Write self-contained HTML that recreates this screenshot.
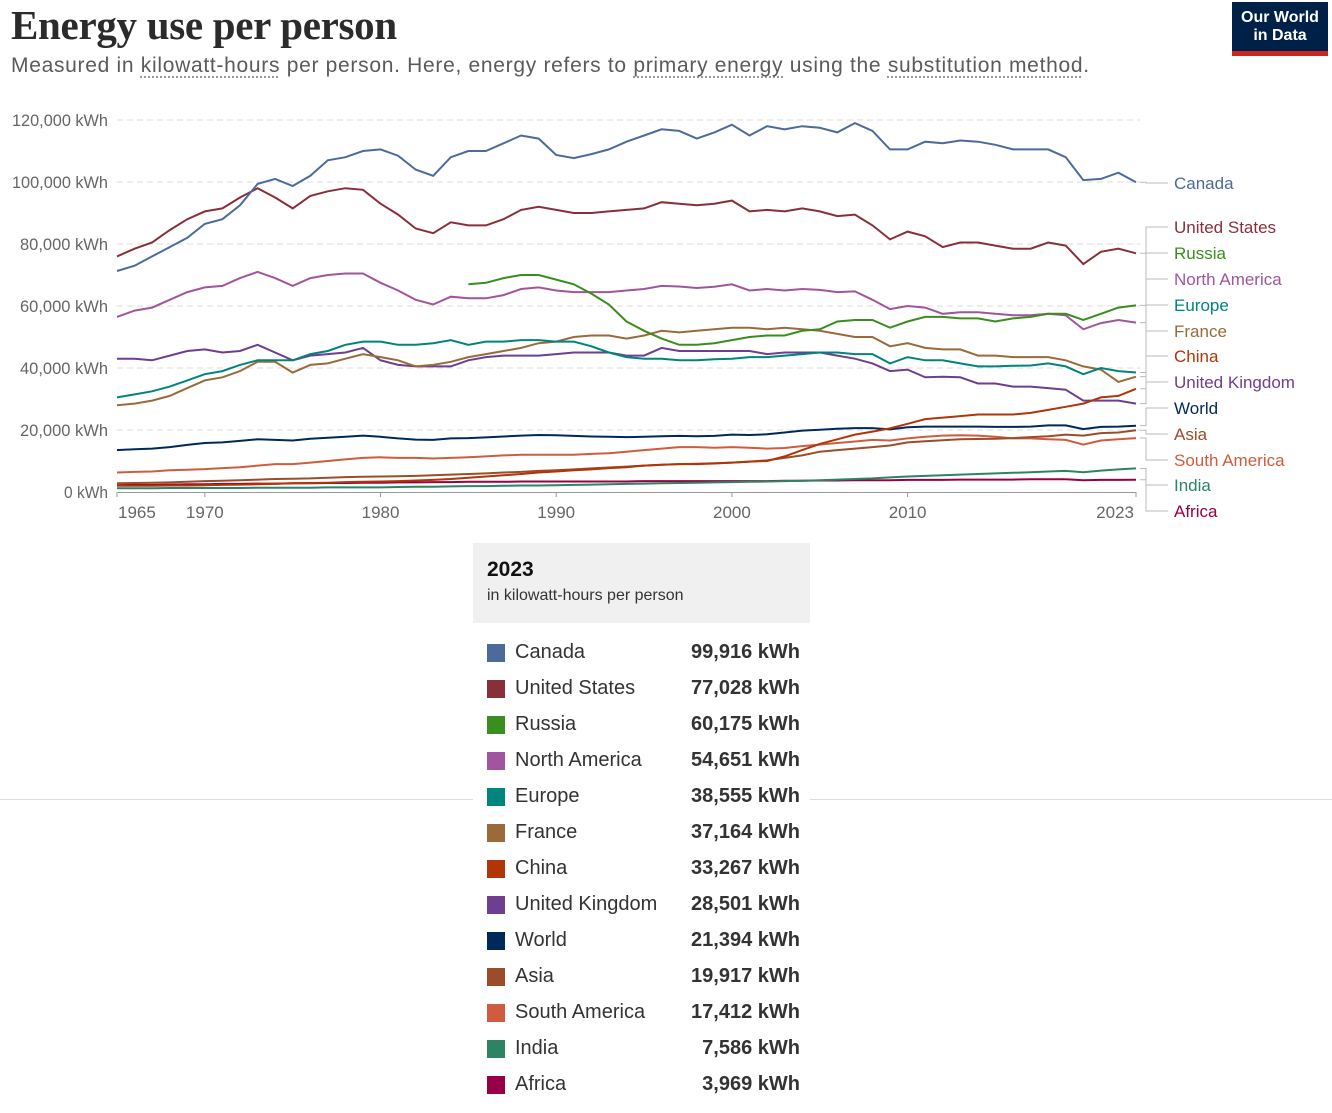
<!DOCTYPE html>
<html><head><meta charset="utf-8"><style>
body{margin:0;width:1332px;height:1113px;background:#fff;font-family:"Liberation Sans",sans-serif;position:relative;overflow:hidden}
#title{position:absolute;left:11px;top:1px;font-family:"Liberation Serif",serif;font-weight:bold;font-size:41px;color:#2b2b2b;letter-spacing:-0.3px}
#sub{position:absolute;left:11px;top:54px;font-size:21px;color:#5b5b5b;letter-spacing:0.7px}
#sub u{text-decoration:underline dotted #999;text-underline-offset:4px}
#logo{position:absolute;left:1232px;top:2px;width:96px;background:#002147;border-bottom:5px solid #ce261e;color:#fff;font-size:16px;font-weight:bold;text-align:center;line-height:18px;padding-top:7px;height:42px}
#hr{position:absolute;left:0;top:799px;width:1332px;height:1px;background:#ddd}
#tbl{position:absolute;left:473px;top:543px;width:337px;background:#fff}
#th{background:#f0f0f0;height:80px;padding-left:14px;box-sizing:border-box}
#th b{display:block;padding-top:15px;font-size:21px;color:#111}
#th span{display:block;font-size:16px;color:#333;margin-top:5px}
.row{position:relative;height:36px;font-size:20px;color:#333}
.sw{position:absolute;left:14px;top:1px;width:18px;height:18px}
.nm{position:absolute;left:42px;top:-2px}
.vl{position:absolute;right:10px;top:-2px;font-weight:bold}
</style></head><body>
<div id="title">Energy use per person</div>
<div id="sub">Measured in <u>kilowatt-hours</u> per person. Here, energy refers to <u>primary energy</u> using the <u>substitution method</u>.</div>
<div id="logo">Our World<br>in Data</div>
<svg id="chart" width="1332" height="540" style="position:absolute;left:0;top:0"></svg>
<div id="hr"></div>
<div id="tbl">
<div id="th"><b>2023</b><span>in kilowatt-hours per person</span></div>
<div id="rows" style="padding-top:20px"></div>
</div>
<script>
const years=[];for(let y=1965;y<=2023;y++)years.push(y);
const names=["Canada","United States","Russia","North America","Europe","France","China","United Kingdom","World","Asia","South America","India","Africa"];
const colors=["#4c6a9c","#883039","#3a8d1f","#a2559c","#00847e","#9a6a3a","#b13507","#6d3e91","#00295b","#9b4d2a","#cf5c3e","#2c8465","#970046"];
const canada=[71.3,73,76,79,82,86.5,88,92.5,99.4,101,98.7,102,107,108,110,110.5,108.5,104,102,108,110,110,112.5,115,114,108.7,107.7,109,110.5,113,115,117,116.5,114,116,118.5,115,118,117,118,117.5,116,119,116.5,110.5,110.5,113,112.5,113.4,113,112,110.5,110.5,110.5,108,100.6,101,103,99.9];
const usa=[76,78.5,80.5,84.5,88,90.5,91.5,95,98,95,91.5,95.5,97,98,97.5,93,89.5,85,83.5,87,86,86,88,91,92,91,90,90,90.5,91,91.5,93.5,93,92.5,93,94,90.5,91,90.5,91.5,90.5,89,89.5,86,81.5,84,82.5,79,80.5,80.5,79.5,78.5,78.5,80.5,79.5,73.5,77.5,78.5,77];
const russia=[null,null,null,null,null,null,null,null,null,null,null,null,null,null,null,null,null,null,null,null,67,67.5,69,70,70,68.5,67,64,60.5,55,52,49.5,47.5,47.5,48,49,50,50.5,50.5,52,52.5,55,55.5,55.5,53,55,56.5,56.5,56,56,55,56,56.5,57.5,57.5,55.5,57.5,59.5,60.2];
const northAmerica=[56.5,58.5,59.5,62,64.5,66,66.5,69,71,69,66.5,69,70,70.5,70.5,67.5,65,62,60.5,63,62.5,62.5,63.5,65.5,66,65,64.5,64.5,64.5,65,65.5,66.5,66.3,65.8,66.2,67,65,65.5,65,65.5,65.2,64.5,64.7,62,59,60,59.5,57.5,58,58,57.5,57,57,57.5,57,52.5,54.5,55.5,54.65];
const europe=[30.5,31.5,32.5,34,36,38,39,41,42.5,42.5,42.5,44.5,45.5,47.5,48.5,48.5,47.5,47.5,48,49,47.5,48.5,48.5,49,49,48.5,48.5,47,45,43.5,43,43,42.5,42.5,42.8,43,43.5,43.5,44,44.5,45,45,44.5,44.5,41.5,43.5,42.5,42.5,41.5,40.5,40.5,40.7,40.8,41.5,40.5,38,40,39,38.55];
const france=[28,28.5,29.5,31,33.5,36,37,39,42,42,38.5,41,41.5,43,44.5,43.5,42.5,40.5,41,42,43.5,44.5,45.5,46.5,48,48.5,50,50.5,50.5,49.5,50.5,52,51.5,52,52.5,53,53,52.5,53,52.5,52,51,50,50,47,48,46.5,46,46,44,44,43.5,43.5,43.5,42.5,40.5,39.5,35.5,37.2];
const china=[2,2,2,2.1,2.1,2.2,2.3,2.4,2.5,2.6,2.8,2.9,3,3.2,3.3,3.4,3.5,3.7,3.9,4.2,4.6,5,5.4,5.8,6.3,6.6,7,7.3,7.7,8,8.5,8.8,9,9,9.2,9.5,9.8,10,11.5,13.5,15.5,17,18.5,19.5,20.5,22,23.5,24,24.5,25,25,25,25.5,26.5,27.5,28.5,30.5,31,33.3];
const uk=[43,43,42.5,44,45.5,46,45,45.5,47.5,45,42.5,44,44.5,45,46.5,42.5,41,40.5,40.5,40.5,42.5,43.5,44,44,44,44.5,45,45,45,44,44,46.5,45.5,45.5,45.5,45.5,45.5,44.5,45,45,45,44,43,41.5,39,39.5,37,37.2,37,35,35,34,34,33.5,33,29.5,29.5,29.5,28.5];
const world=[13.5,13.8,14,14.5,15.2,15.8,16,16.5,17,16.8,16.6,17.2,17.5,17.8,18.2,17.8,17.3,16.9,16.8,17.3,17.4,17.6,17.9,18.2,18.4,18.3,18.1,17.9,17.8,17.7,17.8,18,18.1,18,18.1,18.5,18.4,18.6,19.2,19.8,20.1,20.4,20.6,20.6,20.2,20.9,21.1,21.1,21.1,21.1,21,21,21.1,21.5,21.5,20.3,21,21.1,21.4];
const asia=[2.8,2.9,3,3.1,3.3,3.5,3.6,3.8,4,4.2,4.3,4.4,4.6,4.8,4.9,5,5.1,5.2,5.4,5.6,5.8,6,6.3,6.5,6.8,7,7.3,7.6,7.9,8.2,8.5,8.8,9,9.1,9.3,9.5,9.8,10.2,11,11.8,13,13.5,14,14.5,15,16,16.4,16.7,17,17.1,17.2,17.4,17.7,18,18.5,18.2,19,19.2,19.9];
const southAmerica=[6.3,6.5,6.6,7,7.2,7.4,7.7,8,8.5,9,9,9.5,10,10.5,11,11.2,11,11,10.8,11,11.2,11.5,11.8,12,12,12,12,12.3,12.5,13,13.5,14,14.5,14.5,14.3,14.5,14.3,14,14.2,14.8,15.3,15.8,16.3,16.8,16.6,17.3,17.8,18.2,18.3,18.2,17.8,17.3,17.3,17,16.8,15.3,16.6,17,17.4];
const india=[1.2,1.2,1.2,1.3,1.3,1.3,1.3,1.3,1.4,1.4,1.4,1.4,1.5,1.5,1.5,1.5,1.6,1.7,1.7,1.8,1.9,1.9,2,2.1,2.1,2.2,2.3,2.4,2.5,2.6,2.7,2.8,2.9,3,3.1,3.2,3.3,3.4,3.5,3.6,3.8,4,4.2,4.4,4.7,5,5.2,5.4,5.6,5.8,6,6.2,6.4,6.6,6.8,6.4,6.9,7.3,7.6];
const africa=[2.2,2.3,2.3,2.4,2.5,2.5,2.6,2.6,2.7,2.7,2.8,2.8,2.9,2.9,3,3,3.1,3.1,3.2,3.2,3.3,3.3,3.3,3.4,3.4,3.4,3.4,3.4,3.4,3.4,3.5,3.5,3.5,3.5,3.5,3.5,3.5,3.5,3.6,3.6,3.7,3.7,3.8,3.8,3.8,3.9,3.9,3.9,4,4,4,4,4.1,4.1,4.1,3.8,3.9,3.9,3.97];
const series=[canada,usa,russia,northAmerica,europe,france,china,uk,world,asia,southAmerica,india,africa];
const yTicks=[0,20000,40000,60000,80000,100000,120000];
const xTicks=[1965,1970,1980,1990,2000,2010,2023];
const finalValues=["99,916 kWh","77,028 kWh","60,175 kWh","54,651 kWh","38,555 kWh","37,164 kWh","33,267 kWh","28,501 kWh","21,394 kWh","19,917 kWh","17,412 kWh","7,586 kWh","3,969 kWh"];
const labelY=[183,227,253,279,305,331,356,382,408,434,460,485,511];

const NS="http://www.w3.org/2000/svg";
const svg=document.getElementById('chart');
const X=yr=>117+(yr-1965)*(1136-117)/58;
const Y=v=>492-v*(372/120000);
function mk(t,a,p){const e=document.createElementNS(NS,t);for(const k in a)e.setAttribute(k,a[k]);(p||svg).appendChild(e);return e;}
yTicks.forEach(v=>{
  if(v>0){const g=mk('line',{x1:117,x2:1140,y1:Y(v),y2:Y(v),stroke:'#ddd','stroke-dasharray':'6,4'});
  
  }
  const t=mk('text',{x:108,y:Y(v)+6,'text-anchor':'end','font-size':16.5,fill:'#666','font-family':'Liberation Sans, sans-serif','textLength':v===0?44:(v>=100000?96:88),'lengthAdjust':'spacingAndGlyphs'});
  t.textContent=v.toLocaleString('en-US')+' kWh';
  
  
});
const ax=mk('line',{x1:117,x2:1136,y1:492.5,y2:492.5,stroke:'#999'});


xTicks.forEach((yr,i)=>{
  mk('line',{x1:X(yr),x2:X(yr),y1:492,y2:497,stroke:'#999'});
  const anchor=i===0?'start':(i===xTicks.length-1?'end':'middle');
  const xx=i===0?X(yr)+1:(i===xTicks.length-1?X(yr)-2:X(yr));
  const t=mk('text',{x:xx,y:518,'text-anchor':anchor,'font-size':17,fill:'#666','font-family':'Liberation Sans, sans-serif'});
  t.textContent=yr;
  
  
});
for(let i=series.length-1;i>=0;i--){
  const s=series[i];let d='';let started=false;
  s.forEach((v,j)=>{if(v==null)return;d+=(started?'L':'M')+X(years[j]).toFixed(1)+','+Y(v*1000).toFixed(1);started=true;});
  const p=mk('path',{d:d,fill:'none',stroke:colors[i],'stroke-width':2});
  
  
  const last=s[s.length-1]*1000;
  mk('path',{d:`M1140,${Y(last)}H1146V${labelY[i]}H1168`,fill:'none',stroke:'#bbb','stroke-width':1});
  const t=mk('text',{x:1174,y:labelY[i]+6,'font-size':17,fill:colors[i],'font-family':'Liberation Sans, sans-serif'});
  t.textContent=names[i];
  
  
}
const rows=document.getElementById('rows');
names.forEach((n,i)=>{
  const r=document.createElement('div');r.className='row';
  
  
  r.innerHTML=`<div class="sw" style="background:${colors[i]}"></div><div class="nm">${n}</div><div class="vl">${finalValues[i]}</div>`;
  rows.appendChild(r);
});
</script>
</body></html>
